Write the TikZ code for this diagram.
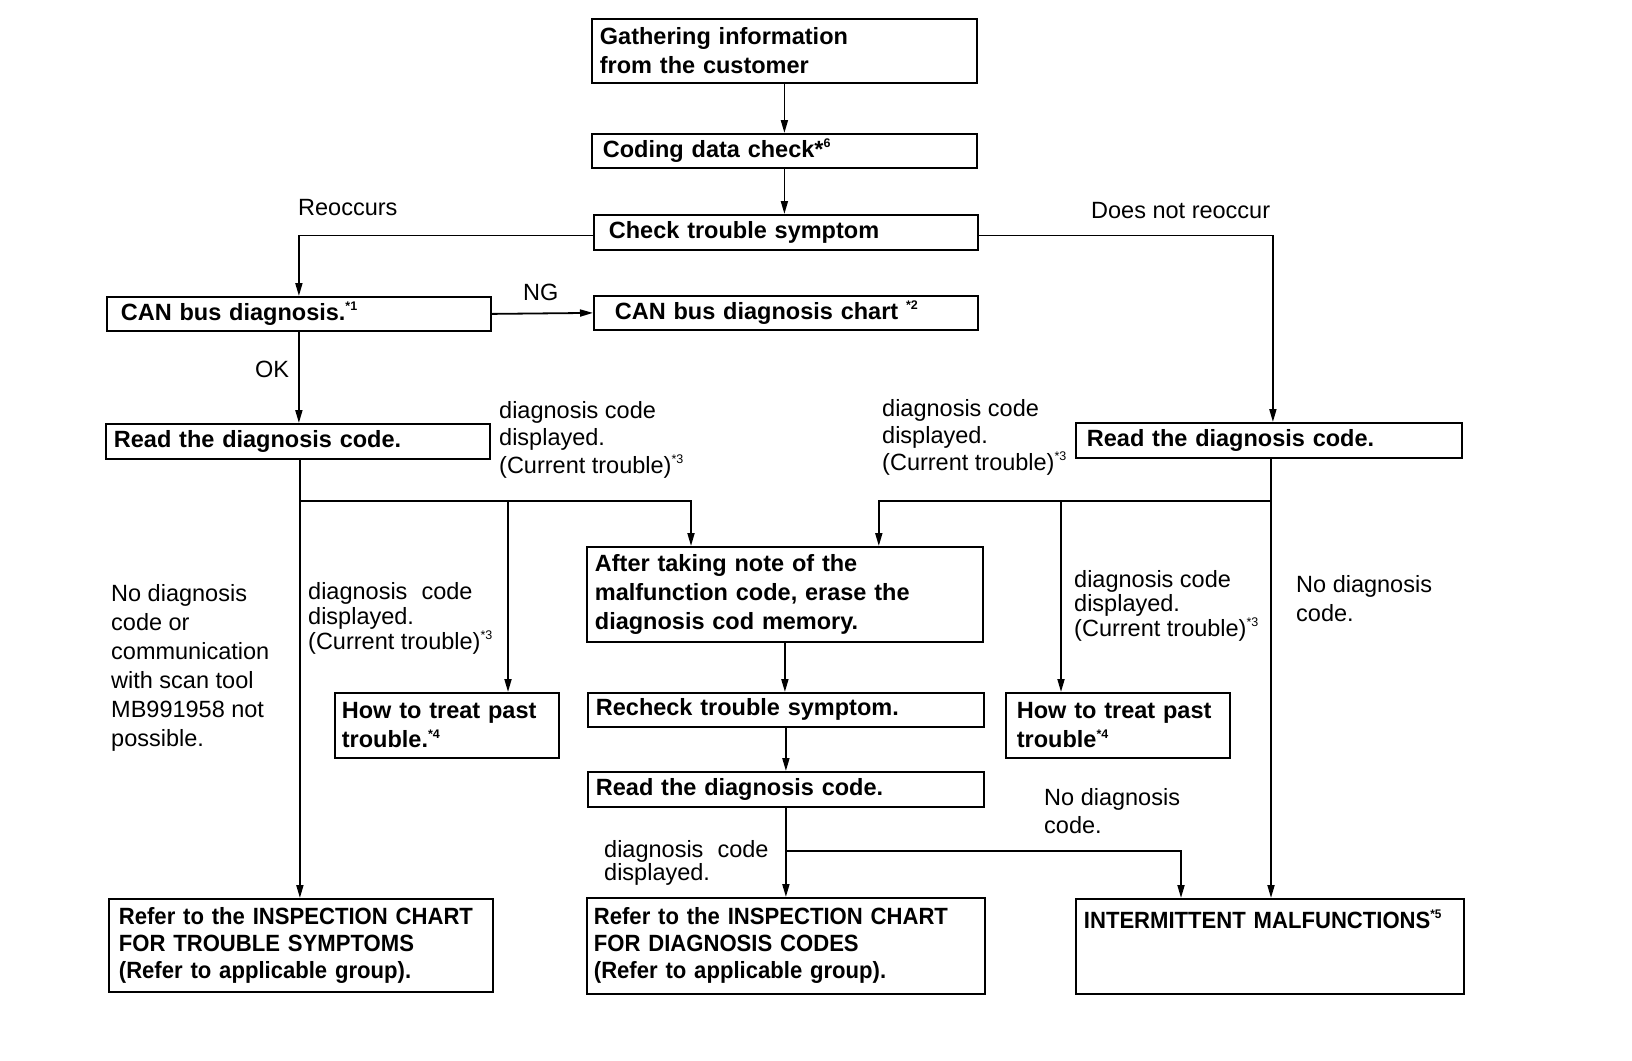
\documentclass[tikz,border=0pt]{standalone}
\usepackage{fontspec}
\setmainfont{Liberation Sans}
\newfontfamily\condfont[FakeStretch=0.94]{Liberation Sans}
\usetikzlibrary{arrows.meta,calc}
\newcommand{\mysup}[1]{\raisebox{0.42em}{\fontsize{12.5}{12.5}\selectfont #1}}
\begin{document}
\begin{tikzpicture}[x=1pt,y=-1pt,
  font=\fontsize{23.5}{29}\selectfont,
  box/.style={draw,line width=1.8pt,align=left,inner ysep=0pt,anchor=north west,font=\fontsize{23.5}{29}\selectfont\bfseries},
  cond/.style={font=\fontsize{23.5}{27}\selectfont\condfont\bfseries},
  lbl/.style={inner sep=0pt,anchor=base west,align=left},
  arr/.style={line width=1.8pt,-{Triangle[length=13pt,width=7pt]}}]
\path[use as bounding box] (0,0) rectangle (1632,1060);
\fill[white] (0,0) rectangle (1632,1060);
% boxes
\node[box, inner xsep=8pt, text width=369pt, minimum height=64pt] (g) at (591,18) {Gathering information\\from the customer};
\node[box, inner xsep=11pt, text width=363pt, minimum height=34pt] (c) at (591,133) {Coding data check*\mysup{6}};
\node[box, inner xsep=15pt, text width=354pt, minimum height=35pt] (t) at (593,214) {Check trouble symptom};
\node[box, inner xsep=14pt, text width=356pt, minimum height=34pt] (cb) at (106,296) {CAN bus diagnosis.\mysup{*1}};
\node[box, inner xsep=21pt, text width=342pt, minimum height=34pt] (cc) at (593,295) {CAN bus diagnosis chart \mysup{*2}};
\node[box, inner xsep=8pt, text width=368pt, minimum height=35pt] (rl) at (105,423) {Read the diagnosis code.};
\node[box, inner xsep=11pt, text width=364pt, minimum height=35pt] (rr) at (1075,422) {Read the diagnosis code.};
\node[box, inner xsep=8pt, text width=380pt, minimum height=95pt] (af) at (586,546) {After taking note of the\\malfunction code, erase the\\diagnosis cod memory.};
\node[box, inner xsep=7pt, text width=210pt, minimum height=65pt] (hl) at (334,692) {How to treat past\\trouble.\mysup{*4}};
\node[box, inner xsep=8pt, text width=380pt, minimum height=34pt] (re) at (587,692) {Recheck trouble symptom.};
\node[box, inner xsep=11pt, text width=202pt, minimum height=65pt] (hr) at (1005,692) {How to treat past\\trouble\mysup{*4}};
\node[box, inner xsep=8pt, text width=380pt, minimum height=35pt] (rm) at (587,771) {Read the diagnosis code.};
\node[box, cond, inner xsep=10pt, text width=364pt, minimum height=93pt] (fl) at (108,898) {Refer to the INSPECTION CHART\\FOR TROUBLE SYMPTOMS\\(Refer to applicable group).};
\node[box, cond, inner xsep=7pt, text width=384pt, minimum height=96pt] (fm) at (586,897) {Refer to the INSPECTION CHART\\FOR DIAGNOSIS CODES\\(Refer to applicable group).};
\node[box, cond, inner xsep=8pt, text width=372pt, minimum height=95pt] (im) at (1075,898) {INTERMITTENT MALFUNCTIONS\mysup{*5}\\\mbox{}\\\mbox{}};
% labels (base = baseline of last line)
\node[lbl] (reo) at (298,215) {Reoccurs};
\node[lbl] (dnr) at (1091,218) {Does not reoccur};
\node[lbl] (ng) at (523,300) {NG};
\node[lbl] (ok) at (255,377) {OK};
\node[lbl, font=\fontsize{23.5}{27.5}\selectfont] (la) at (499,473) {diagnosis code\\displayed.\\(Current trouble)\mysup{*3}};
\node[lbl, font=\fontsize{23.5}{27}\selectfont] (lb) at (882,470) {diagnosis code\\displayed.\\(Current trouble)\mysup{*3}};
\node[lbl, font=\fontsize{23.5}{29}\selectfont] (lc) at (111,746) {No diagnosis\\code or\\communication\\with scan tool\\MB991958 not\\possible.};
\node[lbl, font=\fontsize{23.5}{25}\selectfont] (ld) at (308,649) {diagnosis\hspace{0.6em}code\\displayed.\\(Current trouble)\mysup{*3}};
\node[lbl, font=\fontsize{23.5}{24.5}\selectfont] (le) at (1074,636) {diagnosis code\\displayed.\\(Current trouble)\mysup{*3}};
\node[lbl, font=\fontsize{23.5}{29}\selectfont] (lf) at (1296,621) {No diagnosis\\code.};
\node[lbl, font=\fontsize{23.5}{28}\selectfont] (lg) at (1044,833) {No diagnosis\\code.};
\node[lbl, font=\fontsize{23.5}{23}\selectfont] (lh) at (604,880) {diagnosis\hspace{0.6em}code\\displayed.};
% connectors
\draw[arr] (g.south) -- (c.north);
\draw[arr] (c.south) -- (c.south |- t.north);
\draw[arr] ([yshift=-3pt]t.west) -| (cb.north);
\draw[arr] ([yshift=-3pt]t.east) -| ([xshift=4pt]rr.north);
\draw[arr] (cb.east) -- (cc.west);
\draw[arr] (cb.south) -- (cb.south |- rl.north);
\coordinate (rlo) at ([xshift=2pt]rl.south);
\draw[arr] (rlo) -- (rlo |- fl.north);
\coordinate (jl) at (rlo |- 0,501);
\draw[arr] (jl) -| ([xshift=105pt]af.north west);
\coordinate (hli) at ([xshift=174pt]hl.north west);
\draw[arr] (jl -| hli) -- (hli);
\coordinate (rro) at ([xshift=196pt]rr.south west);
\draw[arr] (rro) -- (rro |- im.north);
\coordinate (jr) at (rro |- 0,501);
\draw[arr] (jr) -| ([xshift=-105pt]af.north east);
\coordinate (hri) at ([xshift=56pt]hr.north west);
\draw[arr] (jr -| hri) -- (hri);
\draw[arr] (af.south) -- (af.south |- re.north);
\draw[arr] (re.south) -- (re.south |- rm.north);
\draw[arr] (rm.south) -- (rm.south |- fm.north);
\coordinate (jm) at (rm.south |- 0,851);
\draw[arr] (jm) -| ([xshift=106pt]im.north west);
\end{tikzpicture}
\end{document}
